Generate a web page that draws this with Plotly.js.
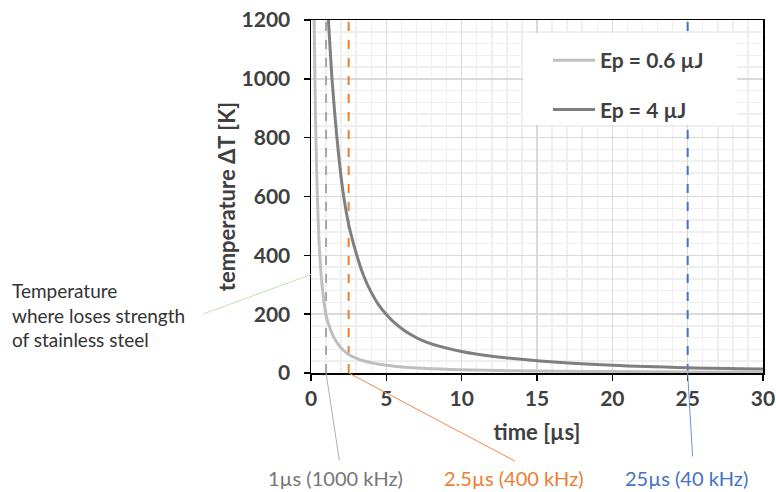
<!DOCTYPE html>
<html>
<head>
<meta charset="utf-8">
<script src="https://cdn.plot.ly/plotly-3.0.1.min.js"></script>
<style>html,body{margin:0;padding:0;background:#fff;}#chart{width:776px;height:492px;}</style>
</head>
<body>
<div id="chart"></div>
<script>
// ---- data ----
const seriesNames = ["Ep = 0.6 µJ", "Ep = 4 µJ"];
const timeLow = [0.21, 0.27, 0.33, 0.42, 0.56, 0.75, 1.0, 1.25, 1.56, 2.0, 2.5, 3.2, 4.0, 5.0, 6.5, 7.65, 10, 12.5, 15, 20, 25, 30];
const tempLow = [1200, 970, 795, 607, 421, 291, 196, 154, 117, 85, 63, 46, 35, 26.6, 18.8, 15, 10.8, 8.4, 6.7, 4.8, 3.6, 2.8];
const timeHigh = [1.16, 1.41, 1.74, 2.1, 2.5, 3.1, 3.5, 4.0, 4.5, 5.0, 5.5, 6.5, 7.65, 10, 12, 15, 20, 25, 30];
const tempHigh = [1200, 990, 790, 625, 505, 390, 330, 274, 231, 199, 173, 134, 105, 73, 57, 42, 26.5, 18.2, 14];
const markerTimes = [1, 2.5, 25];
const markerLabels = ["1µs (1000 kHz)", "2.5µs (400 kHz)", "25µs (40 kHz)"];
const tempRange = [0, 1200];
const noteText = "Temperature<br>where loses strength<br>of stainless steel";
const noteTemp = 335;

// ---- styles ----
const markerColors = ["#a6a6a6", "#ed7d31", "#4472c4"];
const labelColors = ["#767676", "#ed7d31", "#4472c4"];
const connectorColors = ["#b0b0b0", "#f08a4b", "#6f94d8"];
const connectorOffsets = [[13.5, 89], [168, 89], [5, 85]];
const labelPaperX = [(335 - 311) / 452, (514 - 311) / 452, (686 - 311) / 452];
const FONT = "Lato, 'Open Sans', sans-serif";

const traces = [];
markerTimes.forEach((t, i) => {
  traces.push({
    x: [t, t], y: tempRange, mode: "lines", showlegend: false, hoverinfo: "skip",
    line: {color: markerColors[i], width: 2, dash: "dash"}
  });
});
traces.push({
  x: timeLow, y: tempLow, name: seriesNames[0], mode: "lines", legendgroup: "a",
  line: {color: "#bfbfbf", width: 3, shape: "spline", smoothing: 1}
});
traces.push({
  x: timeHigh, y: tempHigh, name: seriesNames[1], mode: "lines", legendgroup: "b",
  line: {color: "#7f7f7f", width: 3, shape: "spline", smoothing: 1}
});

const annotations = [];
markerTimes.forEach((t, i) => {
  annotations.push({
    x: t, y: 0, xref: "x", yref: "y", text: "", showarrow: true, arrowhead: 0,
    arrowwidth: 1, arrowcolor: connectorColors[i],
    ax: connectorOffsets[i][0], ay: connectorOffsets[i][1]
  });
  annotations.push({
    x: labelPaperX[i], y: (373 - 478) / 353, xref: "paper", yref: "paper",
    text: markerLabels[i], showarrow: false, xanchor: "center", yanchor: "middle",
    font: {family: FONT, size: 20, color: labelColors[i]}
  });
});
annotations.push({
  x: 0, y: noteTemp, xref: "x", yref: "y", text: "", showarrow: true, arrowhead: 0,
  arrowwidth: 1, arrowcolor: "#c5e0b4", ax: -109, ay: 40
});
annotations.push({
  x: (10 - 311) / 452, y: (373 - 315) / 353, xref: "paper", yref: "paper",
  text: noteText, showarrow: false, xanchor: "left", yanchor: "middle", align: "left",
  font: {family: FONT, size: 19, color: "#333333"}
});

const layout = {
  width: 776, height: 492,
  margin: {l: 311, r: 13, t: 20, b: 119},
  paper_bgcolor: "#ffffff", plot_bgcolor: "#ffffff",
  font: {family: FONT, color: "#404040"},
  xaxis: {
    range: [0, 30], tick0: 0, dtick: 5, ticks: "outside", ticklen: 6, tickwidth: 1.5, tickcolor: "#000",
    showline: true, linecolor: "#000", linewidth: 1.5, mirror: true, zeroline: false,
    gridcolor: "#d9d9d9", gridwidth: 1.5,
    minor: {dtick: 1, showgrid: true, gridcolor: "#efefef", gridwidth: 1.5},
    tickfont: {family: FONT, size: 21, color: "#404040", weight: "bold"},
    title: {text: "<b>time [µs]</b>", font: {family: FONT, size: 22, color: "#404040"}, standoff: 16}
  },
  yaxis: {
    range: tempRange, tick0: 0, dtick: 200, ticks: "outside", ticklen: 6, tickwidth: 1.5, tickcolor: "#000",
    showline: true, linecolor: "#000", linewidth: 1.5, mirror: true, zeroline: false,
    gridcolor: "#d9d9d9", gridwidth: 1.5,
    minor: {dtick: 40, showgrid: true, gridcolor: "#efefef", gridwidth: 1.5},
    tickfont: {family: FONT, size: 21, color: "#404040", weight: "bold"},
    ticklabelstandoff: 9,
    title: {text: "<b>temperature ΔT [K]</b>", font: {family: FONT, size: 22, color: "#404040"}, standoff: 0}
  },
  shapes: [{
    type: "rect", xref: "paper", yref: "paper", layer: "above",
    x0: (523 - 311) / 452, x1: (737 - 311) / 452, y0: (373 - 125) / 353, y1: (373 - 33) / 353,
    fillcolor: "#ffffff", line: {width: 0}
  }],
  legend: {
    x: (548 - 311) / 452, y: (373 - 40) / 353, xanchor: "left", yanchor: "top",
    bgcolor: "rgba(0,0,0,0)", traceorder: "grouped", tracegroupgap: 19, itemwidth: 42,
    font: {family: FONT, size: 21, color: "#404040", weight: "bold"}
  },
  annotations: annotations,
  showlegend: true
};

Plotly.newPlot("chart", traces, layout, {staticPlot: true, displayModeBar: false});
</script>
</body>
</html>
